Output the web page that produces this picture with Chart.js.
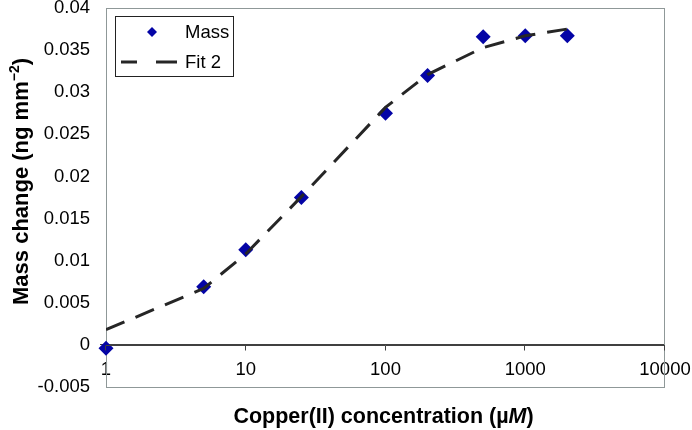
<!DOCTYPE html>
<html>
<head>
<meta charset="utf-8">
<script src="https://cdn.jsdelivr.net/npm/chart.js@4.4.1/dist/chart.umd.min.js"></script>
<style>
  html, body { margin: 0; padding: 0; background: #fff; }
</style>
</head>
<body>
<canvas id="chart" width="692" height="430"></canvas>
<script>
// Data
const concentrations = [1, 5, 10, 25, 100, 200, 500, 1000, 2000];
const massChange = [-0.0004, 0.0069, 0.0113, 0.0175, 0.0275, 0.032, 0.0366, 0.0367, 0.0367];
const fit2 = [0.0018, 0.0067, 0.0108, 0.0176, 0.0282, 0.0321, 0.0353, 0.0367, 0.0375];
const xTicks = [1, 10, 100, 1000, 10000];
const yMin = -0.005;
const yMax = 0.04;
const yStep = 0.005;

const FONT = "'Liberation Sans', Arial, sans-serif";
const xTitle = "Copper(II) concentration (\u00b5";

// gray frame around the plot area
const frame = {
  id: "frame",
  beforeDatasetsDraw(chart) {
    const { ctx, chartArea: a } = chart;
    ctx.save();
    ctx.strokeStyle = "#8f9898";
    ctx.lineWidth = 1;
    ctx.strokeRect(a.left + 0.5, a.top + 0.5, a.right - a.left - 1, a.bottom - a.top);
    ctx.restore();
  },
};

// x axis line crossing at y = 0, with tick marks at each decade
const zeroAxis = {
  id: "zeroAxis",
  afterDraw(chart) {
    const { ctx, chartArea: a, scales } = chart;
    const y0 = Math.round(scales.y.getPixelForValue(0)) + 0.5;
    ctx.save();
    ctx.setLineDash([]);
    ctx.globalAlpha = 1;
    ctx.strokeStyle = "#404040";
    ctx.lineWidth = 1;
    ctx.beginPath();
    ctx.moveTo(a.left, y0);
    ctx.lineTo(a.right, y0);
    for (const v of xTicks) {
      const px = Math.round(scales.x.getPixelForValue(v)) - 0.5;
      ctx.moveTo(px, y0);
      ctx.lineTo(px, y0 + 5);
    }
    ctx.stroke();
    ctx.restore();
  },
};

// boxed legend inside the plot, like the original
const legendBox = {
  id: "legendBox",
  afterDraw(chart) {
    const { ctx, chartArea: a } = chart;
    const [mass, fit] = chart.data.datasets;
    const left = a.left + 9;
    const top = a.top + 8;
    ctx.save();
    ctx.setLineDash([]);
    ctx.fillStyle = "#fff";
    ctx.fillRect(left, top, 118, 60);
    ctx.strokeStyle = "#222";
    ctx.lineWidth = 1;
    ctx.strokeRect(left + 0.5, top + 0.5, 118, 60);

    // Mass marker
    const cx = left + 37, cy = top + 16;
    ctx.fillStyle = mass.backgroundColor;
    ctx.beginPath();
    ctx.moveTo(cx - 5, cy);
    ctx.lineTo(cx, cy - 5);
    ctx.lineTo(cx + 5, cy);
    ctx.lineTo(cx, cy + 5);
    ctx.closePath();
    ctx.fill();

    // Fit 2 dashed sample
    const ly = top + 46;
    ctx.strokeStyle = fit.borderColor;
    ctx.lineWidth = fit.borderWidth;
    ctx.beginPath();
    ctx.moveTo(left + 6, ly);
    ctx.lineTo(left + 22, ly);
    ctx.moveTo(left + 41, ly);
    ctx.lineTo(left + 62, ly);
    ctx.stroke();

    ctx.fillStyle = "#000";
    ctx.font = "18.5px " + FONT;
    ctx.textAlign = "left";
    ctx.textBaseline = "middle";
    ctx.fillText(mass.label, left + 70, cy + 1);
    ctx.fillText(fit.label, left + 70, ly + 1);
    ctx.restore();
  },
};

// axis titles (x title has an italic M, y title a superscript)
const titles = {
  id: "titles",
  afterDraw(chart) {
    const { ctx, chartArea: a } = chart;
    ctx.save();
    ctx.fillStyle = "#000";
    ctx.textBaseline = "alphabetic";
    ctx.textAlign = "left";

    ctx.font = "bold 21.5px " + FONT;
    const w1 = ctx.measureText(xTitle).width;
    ctx.font = "italic bold 21.5px " + FONT;
    const w2 = ctx.measureText("M").width;
    ctx.font = "bold 21.5px " + FONT;
    const w3 = ctx.measureText(")").width;
    let x = (a.left + a.right) / 2 - 2 - (w1 + w2 + w3) / 2;
    ctx.fillText(xTitle, x, 423);
    ctx.font = "italic bold 21.5px " + FONT;
    ctx.fillText("M", x + w1, 423);
    ctx.font = "bold 21.5px " + FONT;
    ctx.fillText(")", x + w1 + w2, 423);

    ctx.translate(28, (a.top + a.bottom) / 2 - 16);
    ctx.rotate(-Math.PI / 2);
    const main = "Mass change (ng mm";
    const sup = "\u22122";
    ctx.font = "bold 22px " + FONT;
    const m1 = ctx.measureText(main).width;
    const m3 = ctx.measureText(")").width;
    ctx.font = "bold 14px " + FONT;
    const m2 = ctx.measureText(sup).width;
    x = -(m1 + m2 + m3) / 2;
    ctx.font = "bold 22px " + FONT;
    ctx.fillText(main, x, 0);
    ctx.fillText(")", x + m1 + m2, 0);
    ctx.font = "bold 14px " + FONT;
    ctx.fillText(sup, x + m1, -9);
    ctx.restore();
  },
};

const tickFont = { family: FONT, size: 18.5 };

new Chart(document.getElementById("chart"), {
  type: "scatter",
  data: {
    datasets: [
      {
        label: "Mass",
        data: concentrations.map((c, i) => ({ x: c, y: massChange[i] })),
        pointStyle: "rectRot",
        pointRadius: 7.5,
        pointHoverRadius: 7.5,
        backgroundColor: "#0404a6",
        borderColor: "#0404a6",
        borderWidth: 0,
        showLine: false,
        clip: false,
        order: 2,
      },
      {
        label: "Fit 2",
        type: "line",
        data: concentrations.map((c, i) => ({ x: c, y: fit2[i] })),
        borderColor: "#262626",
        borderWidth: 3,
        borderDash: [20, 12],
        pointRadius: 0,
        fill: false,
        tension: 0,
        order: 1,
      },
    ],
  },
  options: {
    responsive: false,
    animation: false,
    layout: { padding: { top: 8, right: 27, bottom: 43, left: 0 } },
    plugins: {
      legend: { display: false },
      tooltip: { enabled: false },
    },
    scales: {
      x: {
        type: "logarithmic",
        position: { y: 0 },
        min: 1,
        max: 10000,
        afterBuildTicks: (scale) => {
          scale.ticks = xTicks.map((v) => ({ value: v, major: true }));
        },
        afterFit: (scale) => {
          scale.paddingLeft = 0;
          scale.paddingRight = 0;
        },
        ticks: {
          callback: (v) => String(v),
          autoSkip: false,
          maxRotation: 0,
          padding: 9,
          color: "#000",
          font: tickFont,
        },
        grid: { display: false, tickLength: 5 },
        border: { display: false },
      },
      y: {
        min: yMin,
        max: yMax,
        afterFit: (scale) => {
          scale.width = 106;
          scale.paddingTop = 0;
          scale.paddingBottom = 0;
        },
        ticks: {
          stepSize: yStep,
          callback: (v) => String(Number(v.toFixed(4))),
          padding: 10,
          color: "#000",
          font: tickFont,
        },
        grid: {
          drawOnChartArea: true,
          tickLength: 6,
          color: (c) => (c.tick && Math.abs(c.tick.value) < 1e-9 ? "#404040" : "rgba(0,0,0,0)"),
        },
        border: { color: "#404040", width: 1 },
      },
    },
  },
  plugins: [frame, zeroAxis, legendBox, titles],
});
</script>
</body>
</html>
